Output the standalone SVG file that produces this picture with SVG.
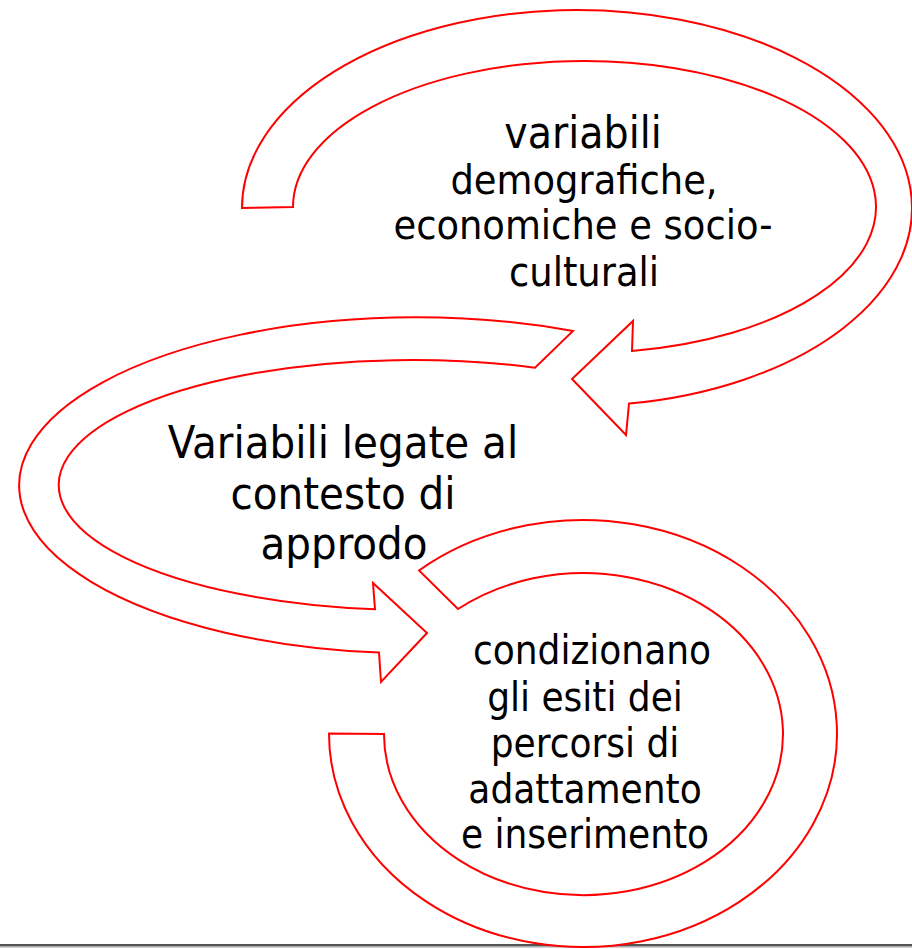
<svg xmlns="http://www.w3.org/2000/svg" width="912" height="949" viewBox="0 0 912 949">
<style>
.arrow{fill:#ffffff;stroke:#ff0000;stroke-width:2;stroke-linejoin:miter}
.t{font-family:"DejaVu Sans Condensed","DejaVu Sans",sans-serif;font-stretch:condensed;fill:#000000;text-anchor:middle}
</style>
<rect x="0" y="0" width="912" height="949" fill="#ffffff"/>
<g id="baseline">
<rect x="0" y="944" width="912" height="2" fill="#555555"/>
<rect x="0" y="946" width="912" height="1.5" fill="#a8a8a8"/>
</g>
<g id="connectors"></g>
<g id="node-demografiche">
<path class="arrow" d="M 242 208 A 335 198 0 1 1 629 403.6 L 626 435 L 572 379 L 633 321 L 632 351 A 291.5 146 0 1 0 293 207 Z"/>
<text class="t" font-size="44" x="583" y="148">variabili</text>
<text class="t" font-size="41" x="584" y="194">demografiche,</text>
<text class="t" font-size="41" x="583" y="239">economiche e socio-</text>
<text class="t" font-size="41" x="584" y="286">culturali</text>
</g>
<g id="node-contesto">
<path class="arrow" d="M 573 331 A 397 168 0 1 0 379 652.6 L 381 682 L 427 633 L 373 583 L 375 609.3 A 354 125 0 1 1 535 367.7 Z"/>
<text class="t" font-size="45" x="343" y="458">Variabili legate al</text>
<text class="t" font-size="45" x="343" y="509">contesto di</text>
<text class="t" font-size="45" x="344" y="559">approdo</text>
</g>
<g id="node-esiti">
<path class="arrow" d="M 329 733.5 A 254 213.5 0 1 0 419 570.5 L 458 609 A 199.5 161 0 1 1 384 734 Z"/>
<text class="t" font-size="40" x="592" y="664">condizionano</text>
<text class="t" font-size="40" x="585" y="711">gli esiti dei</text>
<text class="t" font-size="40" x="585" y="757">percorsi di</text>
<text class="t" font-size="40" x="585" y="803">adattamento</text>
<text class="t" font-size="40" x="585" y="848">e inserimento</text>
</g>
</svg>
